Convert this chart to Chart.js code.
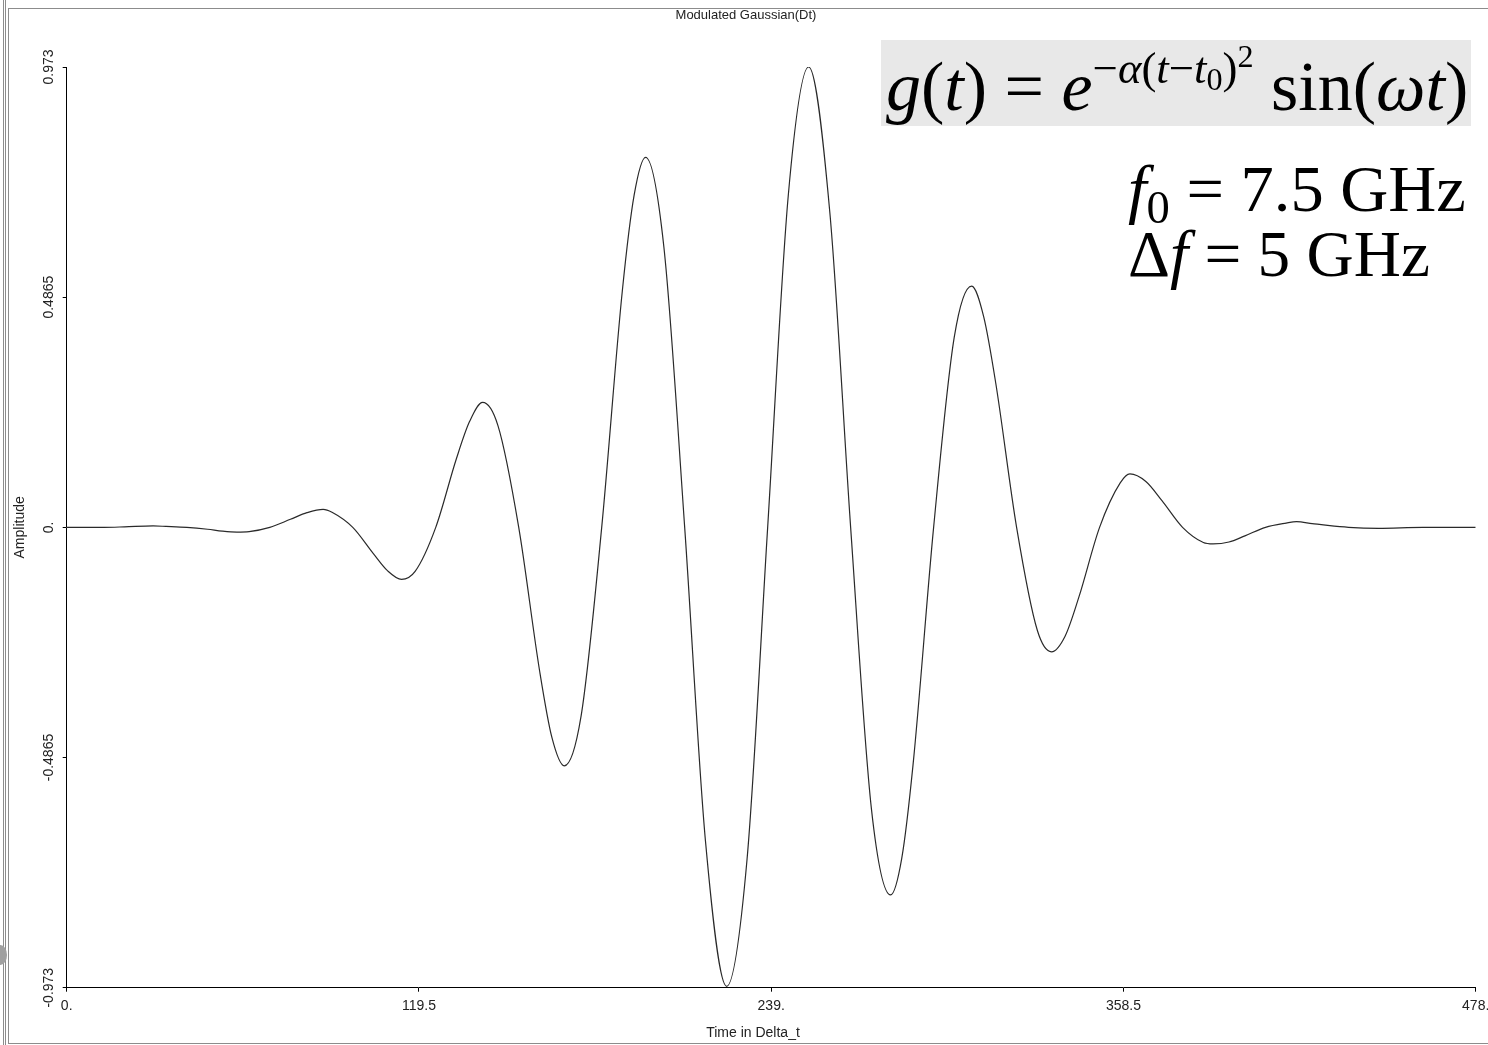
<!DOCTYPE html>
<html>
<head>
<meta charset="utf-8">
<title>Modulated Gaussian(Dt)</title>
<script src="https://cdn.jsdelivr.net/npm/chart.js@4.4.1/dist/chart.umd.min.js"></script>
<style>
  html, body { margin: 0; padding: 0; background: #fff; }
  #wrap { position: relative; width: 1488px; height: 1045px; overflow: hidden; }
  .rail { position: absolute; top: 0; width: 1px; height: 1045px; background: #8c8c8c; }
  #panel { position: absolute; left: 8px; top: 8px; width: 1500px; height: 1036px; box-sizing: border-box;
           border: 1px solid #8c8c8c; border-right: none; }
  #knob { position: absolute; left: -6px; top: 945px; width: 13px; height: 20px; border-radius: 50%; background: #a0a0a0; }
  canvas { position: absolute; left: 0; top: 0; }
</style>
</head>
<body>
<div id="wrap">
  <div class="rail" style="left:3px"></div>
  <div class="rail" style="left:5px"></div>
  <div id="knob"></div>
  <div id="panel"></div>
  <canvas id="graphic" width="1488" height="1045"></canvas>
</div>
<script>
//time (in Delta_t) and amplitude: zero crossings, peaks/troughs and points in between
const timeSteps = [0, 12.6, 19.6, 29.3, 33.7, 40.75, 47.8, 52.8, 57.7, 61.9, 68.9,
    75.9, 81.5, 87.0, 90.0, 97.05, 104.1, 108.9, 113.6, 118.2, 125.2, 132.2, 136.7, 141.1,
    146.3, 153.35, 160.4, 164.6, 168.8, 174.5, 181.5, 188.5, 192.5, 196.4, 202.6, 209.65,
    216.7, 223.9, 230.8, 237.8, 244.8, 251.7, 258.9, 265.95, 273.0, 279.5,
    283.3, 287.1, 294.1, 301.1, 307.0, 311.1, 315.2, 322.25, 329.3, 334.1, 338.7, 343.4, 350.4,
    357.4, 360.7, 366.1, 371.5, 378.55, 385.6, 388.9, 394.3, 399.7, 406.7, 413.7, 417.2,
    422.5, 427.8, 434.85, 445, 460, 478];
const amplitude = [0, 0.000, 0.001, 0.003, 0.002, 0.000, -0.004, -0.008, -0.010, -0.009, 0.000,
    0.017, 0.031, 0.038, 0.032, 0.000, -0.056, -0.092, -0.110, -0.093, 0.000, 0.145, 0.224, 0.264,
    0.215, 0.000, -0.302, -0.444, -0.504, -0.399, 0.000, 0.500, 0.702, 0.782, 0.592, 0.000,
    -0.663, -0.970, -0.702, 0.000, 0.702, 0.973, 0.665, 0.000, -0.595, -0.777,
    -0.699, -0.503, 0.000, 0.402, 0.510, 0.445, 0.304, 0.000, -0.218, -0.263, -0.230, -0.147, 0.000,
    0.094, 0.113, 0.097, 0.057, 0.000, -0.032, -0.035, -0.031, -0.018, 0.000, 0.009, 0.012,
    0.008, 0.004, 0.000, -0.002, 0.000, 0];

//axis ticks as the original program printed them
const xTickValues = [0, 119.5, 239, 358.5, 478];
const xTickLabels = ["0.", "119.5", "239.", "358.5", "478."];
const yTickValues = [-0.973, -0.4865, 0, 0.4865, 0.973];
const yTickLabels = ["-0.973", "-0.4865", "0.", "0.4865", "0.973"];

const chartTitle = "Modulated Gaussian(Dt)";
const xTitle = "Time in Delta_t";
const yTitle = "Amplitude";

const sans = '"Liberation Sans", Arial, sans-serif';
const serif = '"Liberation Serif", "Times New Roman", serif';

/**
 * write a row of text pieces (italic / smaller / raised) one after the other
 * if width is given the whole row is scaled to that width
 */
function drawRuns(ctx, runs, x, y, size, width){
    const fontFor = (r, s) => (r.i ? 'italic ' : '') + (s * (r.k || 1)).toFixed(1) + 'px ' + serif;
    const measure = s => runs.reduce((w, r) => { ctx.font = fontFor(r, s); return w + ctx.measureText(r.t).width; }, 0);
    let s = size;
    if(width){ s = size * width / measure(size); }
    let cx = x;
    for(const r of runs){
        ctx.font = fontFor(r, s);
        ctx.fillText(r.t, cx, y + (r.dy || 0) * s);
        cx += ctx.measureText(r.t).width;
    }
}

//the formula and the two parameters
const sup = {k: .64, dy: -.38};
const formulaRuns = [
    {t: 'g', i: 1}, {t: '('}, {t: 't', i: 1}, {t: ')'}, {t: ' = '}, {t: 'e', i: 1},
    {t: '\u2212', ...sup}, {t: '\u03b1', i: 1, ...sup}, {t: '(', ...sup},
    {t: 't', i: 1, ...sup}, {t: '\u2212', ...sup}, {t: 't', i: 1, ...sup},
    {t: '0', k: .46, dy: -.28}, {t: ')', ...sup}, {t: '2', k: .46, dy: -.62},
    {t: ' sin('}, {t: '\u03c9', i: 1}, {t: 't', i: 1}, {t: ')'}
];
const f0Runs = [{t: 'f', i: 1}, {t: '0', k: .7, dy: .18}, {t: ' = 7.5 GHz'}];
const dfRuns = [{t: '\u0394'}, {t: 'f', i: 1}, {t: ' = 5 GHz'}];

const textPlugin = {
    id: 'texts',
    beforeDatasetsDraw(chart){
        const ctx = chart.ctx;
        ctx.save();
        ctx.fillStyle = '#e8e8e8';
        ctx.fillRect(881, 40, 590, 86);
        ctx.restore();
    },
    afterDraw(chart){
        const ctx = chart.ctx;
        const yScale = chart.scales.y;
        ctx.save();
        ctx.fillStyle = '#222';
        ctx.textAlign = 'center';
        ctx.textBaseline = 'middle';

        //y tick labels stand on their side
        ctx.font = '14px ' + sans;
        for(let i = 0; i < yTickValues.length; i++){
            ctx.save();
            ctx.translate(49, yScale.getPixelForValue(yTickValues[i]));
            ctx.rotate(-Math.PI / 2);
            ctx.fillText(yTickLabels[i], 0, 0);
            ctx.restore();
        }
        ctx.save();
        ctx.translate(20, yScale.getPixelForValue(0));
        ctx.rotate(-Math.PI / 2);
        ctx.fillText(yTitle, 0, 0);
        ctx.restore();

        ctx.fillText(xTitle, 753, 1033);
        ctx.font = '13px ' + sans;
        ctx.fillText(chartTitle, 746, 15);

        ctx.fillStyle = '#000';
        ctx.textAlign = 'left';
        ctx.textBaseline = 'alphabetic';
        drawRuns(ctx, formulaRuns, 886, 110, 64, 582);
        drawRuns(ctx, f0Runs, 1128, 211, 64, 338);
        drawRuns(ctx, dfRuns, 1128, 276, 64, 302);
        ctx.restore();
    }
};

const config = {
    type: 'line',
    data: {
        datasets: [{
            label: chartTitle,
            data: timeSteps.map((t, i) => ({x: t, y: amplitude[i]})),
            borderColor: '#2a2a2a',
            borderWidth: 1.2,
            pointRadius: 0,
            fill: false,
            cubicInterpolationMode: 'monotone'
        }]
    },
    options: {
        responsive: false,
        animation: false,
        layout: {padding: {top: 67, left: 0, right: 12.3, bottom: 0}},
        plugins: {legend: {display: false}, tooltip: {enabled: false}, title: {display: false}},
        scales: {
            x: {
                type: 'linear',
                min: 0,
                max: 478,
                afterBuildTicks: s => { s.ticks = xTickValues.map(v => ({value: v})); },
                afterFit: s => { s.height = 1045 - 987.7; s.paddingLeft = 0; s.paddingRight = 0; },
                ticks: {
                    callback: (v, i) => xTickLabels[i],
                    font: {family: sans, size: 14},
                    color: '#222',
                    padding: 6,
                    maxRotation: 0,
                    autoSkip: false
                },
                grid: {drawOnChartArea: false, drawTicks: true, tickLength: 4, color: '#000'},
                border: {display: true, color: '#000', width: 1}
            },
            y: {
                type: 'linear',
                min: -0.973,
                max: 0.973,
                afterBuildTicks: s => { s.ticks = yTickValues.map(v => ({value: v})); },
                afterFit: s => { s.width = 66.7; s.paddingTop = 0; s.paddingBottom = 0; },
                ticks: {display: false},
                grid: {drawOnChartArea: false, drawTicks: true, tickLength: 4, color: '#000'},
                border: {display: true, color: '#000', width: 1}
            }
        }
    },
    plugins: [textPlugin]
};

let myChart = new Chart(document.getElementById("graphic"), config);
</script>
</body>
</html>
